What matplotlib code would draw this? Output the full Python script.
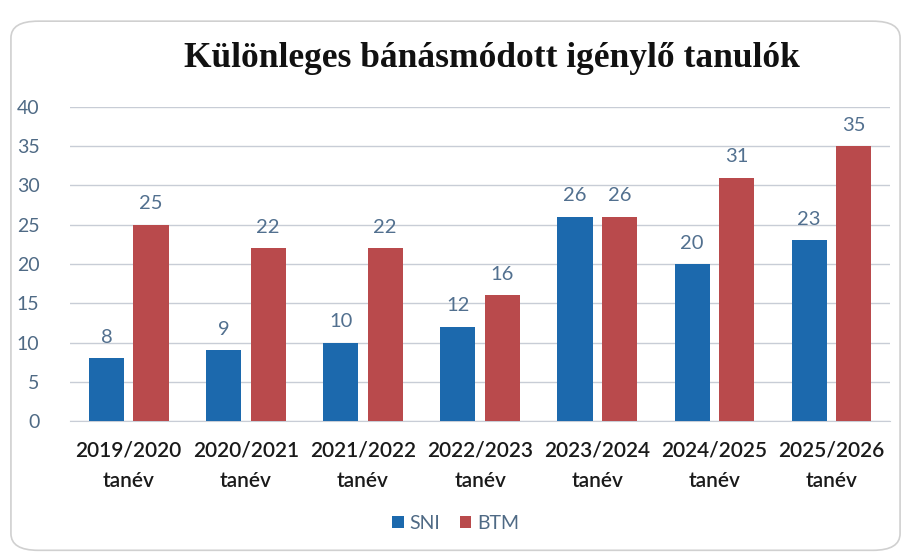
import matplotlib
matplotlib.use("Agg")
import matplotlib.pyplot as plt
from matplotlib.patches import FancyBboxPatch
import numpy as np

categories = ["2019/2020\ntanév", "2020/2021\ntanév", "2021/2022\ntanév", "2022/2023\ntanév",
              "2023/2024\ntanév", "2024/2025\ntanév", "2025/2026\ntanév"]
sni = [8, 9, 10, 12, 26, 20, 23]
btm = [25, 22, 22, 16, 26, 31, 35]
series_names = ["SNI", "BTM"]
title = "Különleges bánásmódott igénylő tanulók"

fig = plt.figure(figsize=(9.11, 5.57), dpi=100)
fig.patches.append(FancyBboxPatch((0.012, 0.012), 0.976, 0.95,
                                  boxstyle="round,pad=0,rounding_size=0.03",
                                  transform=fig.transFigure, fill=False,
                                  edgecolor="#d0d0d0", linewidth=1.2))
ax = fig.add_axes([0.077, 0.244, 0.90, 0.564])

x = np.arange(len(categories))
w = 0.30
gap = 0.04
b1 = ax.bar(x - w/2 - gap, sni, w, color="#1c69ad", label=series_names[0], zorder=3)
b2 = ax.bar(x + w/2 + gap, btm, w, color="#b94a4c", label=series_names[1], zorder=3)

lab_font = "Lato"
for bars, vals in ((b1, sni), (b2, btm)):
    for r, v in zip(bars, vals):
        ax.annotate(str(v), (r.get_x() + r.get_width()/2, v), xytext=(0, 9),
                    textcoords="offset points", ha="center", va="bottom",
                    fontsize=14.5, color="#52708f", family=lab_font)

ax.set_ylim(0, 40)
ax.set_yticks(range(0, 41, 5))
ax.set_xlim(-0.5, len(categories) - 0.5)
ax.set_xticks(x)
ax.set_xticklabels(categories, fontsize=15, family=lab_font, color="#1a1a1a",
                   linespacing=1.65, fontweight="semibold")
ax.tick_params(axis="y", labelsize=14, labelcolor="#4f6a85", length=0, pad=22)
ax.tick_params(axis="x", length=0, pad=14)
for t in ax.get_yticklabels():
    t.set_family(lab_font)
ax.grid(axis="y", color="#c8cdd6", linewidth=1, zorder=0)
for s in ["top", "right", "left"]:
    ax.spines[s].set_visible(False)
ax.spines["bottom"].set_color("#c8cdd6")

fig.text(0.54, 0.895, title, ha="center", va="center", fontsize=25.5,
         fontweight="bold", family="Liberation Serif", color="#111111")

fig.legend(handles=[b1, b2], labels=series_names, loc="center", bbox_to_anchor=(0.50, 0.06),
           ncol=2, frameon=False, handlelength=0.6, handleheight=0.6,
           columnspacing=1.0, handletextpad=0.3, labelcolor="#4f6a85",
           prop={"family": lab_font, "size": 14})

fig.savefig("out.png", dpi=100)
